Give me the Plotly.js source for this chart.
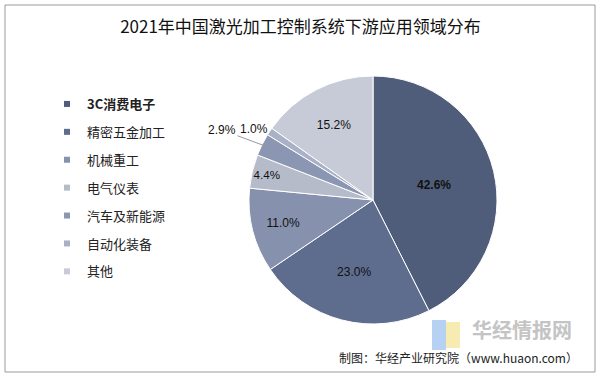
<!DOCTYPE html>
<html><head><meta charset="utf-8">
<script src="https://cdn.plot.ly/plotly-3.0.1.min.js"></script>
<style>html,body{margin:0;padding:0;background:#fff}#chart{width:601px;height:379px}</style>
</head><body><div id="chart"></div>
<script>
const categories = ["3C消费电子","精密五金加工","机械重工","电气仪表","汽车及新能源","自动化装备","其他"];
const shares = [42.6, 23.0, 11.0, 4.4, 2.9, 1.0, 15.2];
const colors = ["#505d7a","#5e6d8e","#8691ae","#b6bbca","#8b96b3","#a9b1c6","#c7cbd7"];
const titleText = "2021年中国激光加工控制系统下游应用领域分布";
const sourceText = "制图：华经产业研究院（www.huaon.com）";
const W = 601, H = 379;
const px = (x) => x / W, py = (y) => 1 - y / H;
const CX = 373, CY = 200, R = 124;
const total = shares.reduce((a, b) => a + b, 0);
function edgePoint(i, rr) {
  let cum = 0;
  for (let k = 0; k < i; k++) cum += shares[k];
  const a = (cum + shares[i] / 2) / total * 2 * Math.PI;
  return [CX + rr * Math.sin(a), CY - rr * Math.cos(a)];
}
const numFont = {family: "Liberation Sans, Arial, sans-serif", size: 12, color: "#111111"};

const pie = {
  type: "pie",
  labels: categories,
  values: shares,
  sort: false,
  direction: "clockwise",
  rotation: 0,
  showlegend: false,
  marker: {colors: colors, line: {color: "#ffffff", width: 1}},
  texttemplate: shares.map((v, i) => i === 0 ? "<b>%{value:.1f}%</b>" : "%{value:.1f}%"),
  textposition: ["inside","inside","inside","inside","none","none","inside"],
  insidetextorientation: "horizontal",
  textfont: numFont,
  domain: {x: [px(CX - R), px(CX + R)], y: [py(CY + R), py(CY - R)]},
  hoverinfo: "label+value"
};

const legendTraces = categories.map((c, i) => ({
  type: "scatter", mode: "markers", x: [null], y: [null],
  name: i === 0 ? "<b>" + c + "</b>" : c,
  legendgroup: "g" + i,
  marker: {symbol: "square", size: 6, color: colors[i]},
  hoverinfo: "skip"
}));

const p4 = edgePoint(4, R - 2);
const p5 = edgePoint(5, R + 8);

const layout = {
  width: W, height: H,
  margin: {l: 0, r: 0, t: 0, b: 0},
  paper_bgcolor: "#ffffff", plot_bgcolor: "rgba(0,0,0,0)",
  xaxis: {visible: false, domain: [0, 0.01]},
  yaxis: {visible: false, domain: [0, 0.01]},
  title: {text: titleText, x: 0.5, xanchor: "center", y: py(27), yanchor: "middle", yref: "paper", xref: "paper",
          font: {family: "Noto Sans CJK SC, sans-serif", size: 17, color: "#111111"}},
  showlegend: true,
  legend: {x: px(47), xanchor: "left", y: py(89), yanchor: "top", tracegroupgap: 8,
           font: {family: "Noto Sans CJK SC, sans-serif", size: 13, color: "#222222"},
           bgcolor: "rgba(0,0,0,0)"},
  shapes: [
    {type: "rect", xref: "paper", yref: "paper", x0: px(5), x1: px(595), y0: py(372), y1: py(5),
     line: {color: "#9a9a9a", width: 1}},
    {type: "rect", xref: "paper", yref: "paper", x0: px(432), x1: px(446), y0: py(350), y1: py(320),
     line: {width: 0}, fillcolor: "#b7d1f2"},
    {type: "rect", xref: "paper", yref: "paper", x0: px(446), x1: px(460), y0: py(348), y1: py(322),
     line: {width: 0}, fillcolor: "#f6ebb0"}
  ],
  annotations: [
    {text: shares[4].toFixed(1) + "%", xref: "paper", yref: "paper", x: px(p4[0]), y: py(p4[1]),
     ax: 222 - p4[0], ay: 130 - p4[1], axref: "pixel", ayref: "pixel",
     showarrow: true, arrowhead: 0, arrowwidth: 1, arrowcolor: "#999999", standoff: 0, font: numFont},
    {text: shares[5].toFixed(1) + "%", xref: "paper", yref: "paper", x: px(254), y: py(120),
     showarrow: false, font: numFont},
    {text: sourceText, xref: "paper", yref: "paper", x: px(580), y: py(357), xanchor: "right", yanchor: "middle",
     showarrow: false, font: {family: "Noto Sans CJK SC, sans-serif", size: 12, color: "#222222"}},
    {text: "<b>华经情报网</b>", xref: "paper", yref: "paper", x: px(470), y: py(329), xanchor: "left", yanchor: "middle",
     showarrow: false, font: {family: "Noto Sans CJK SC, sans-serif", size: 20, color: "#c4c4c4"}}
  ]
};

Plotly.newPlot("chart", [pie].concat(legendTraces), layout, {displayModeBar: false, staticPlot: true});
</script></body></html>
